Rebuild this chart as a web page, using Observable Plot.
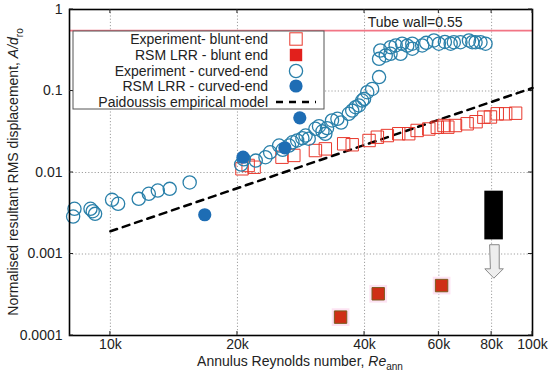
<!DOCTYPE html>
<html>
<head>
<meta charset="utf-8">
<script src="https://cdn.jsdelivr.net/npm/d3@7"></script>
<script src="https://cdn.jsdelivr.net/npm/@observablehq/plot@0.6"></script>
<style>
  body { margin: 0; background: white; }
</style>
</head>
<body>
<div id="chart"></div>
<script>
// ---- Axis ticks ----
const xTicks = [10000, 20000, 40000, 60000, 80000, 100000];
const xTickLabels = ["10k", "20k", "40k", "60k", "80k", "100k"];
const yTicks = [0.0001, 0.001, 0.01, 0.1, 1];
const yTickLabels = ["0.0001", "0.001", "0.01", "0.1", "1"];

// ---- Experiment - blunt-end (open red squares) ----
const expBluntRe = [20500, 21200, 21900, 25500, 27200, 30600, 32300, 35700, 37400, 41000, 42900, 45300, 48200, 50900, 53300, 56800, 59500, 61700, 63000, 65700, 70000, 73500, 76700, 79500, 82500, 86400, 91200];
const expBluntA  = [0.0111, 0.0122, 0.0116, 0.0154, 0.0162, 0.0186, 0.0195, 0.0225, 0.0219, 0.0247, 0.0271, 0.0284, 0.0299, 0.0299, 0.0328, 0.0342, 0.0359, 0.0377, 0.036, 0.0377, 0.0396, 0.042, 0.0477, 0.048, 0.0525, 0.0525, 0.0534];

// ---- RSM LRR - blunt end (filled red squares) ----
const rsmBluntRe = [35100, 43100, 60900];
const rsmBluntA  = [0.000168, 0.000325, 0.00041];

// ---- Experiment - curved-end (open blue circles) ----
const expCurvedRe = [8220, 8160, 8970, 9080, 9200, 10090, 10430, 11670, 12330, 12950, 13820, 15410,
  20400, 20700, 22100, 23300, 23900, 25100, 25600, 26500, 27000, 27700, 28500, 29000, 29500, 30600, 31200, 31800, 32300, 32600, 33500, 34500, 35200, 36700, 37400, 38100, 38800, 39500, 39900, 40600, 41700, 43300,
  43300, 43600, 44900, 46100, 46100, 47400, 48700, 49100, 50500, 51900, 51900, 54800, 56000, 58400, 60000, 62000, 64000, 65100, 67500, 70700, 72000, 73300, 75300, 77400];
const expCurvedA = [0.00359, 0.00288, 0.00359, 0.00335, 0.00311, 0.00462, 0.00413, 0.00475, 0.00548, 0.00601, 0.0063, 0.00754,
  0.0125, 0.0145, 0.014, 0.0154, 0.0177, 0.0214, 0.019, 0.0214, 0.0235, 0.0247, 0.0264, 0.0284, 0.026, 0.0344, 0.037, 0.032, 0.0298, 0.035, 0.0435, 0.0456, 0.041, 0.0525, 0.0575, 0.0633, 0.0664, 0.0764, 0.08, 0.0967, 0.106, 0.148,
  0.248, 0.314, 0.273, 0.286, 0.345, 0.362, 0.286, 0.38, 0.36, 0.33, 0.38, 0.362, 0.39, 0.417, 0.38, 0.4, 0.38, 0.397, 0.397, 0.417, 0.397, 0.397, 0.397, 0.38];

// ---- RSM LRR - curved-end (filled blue circles) ----
const rsmCurvedRe = [16730, 20620, 25900, 28100];
const rsmCurvedA  = [0.00303, 0.0154, 0.0201, 0.0469];

// ---- Paidoussis empirical model ----
const paidRe = [10000, 100000];
const paidA  = [0.0019, 0.109];

// ---- Tube wall ----
const tubeWall = 0.55;
const tubeWallLabel = "Tube wall=0.55";
const tubeWallLabelRe = 40700;

// ---- Annotation: black block and hollow down arrow ----
const blockRe = [77100, 85300];
const blockA  = [0.00149, 0.0059];
const arrowRe = [79300, 83400, 83400, 85300, 81000, 77100, 79300];
const arrowA  = [0.0013, 0.0013, 0.000658, 0.000658, 0.000505, 0.000658, 0.000658];

// ---- Legend ----
const legendLabels = ["Experiment- blunt-end", "RSM LRR - blunt end", "Experiment - curved-end", "RSM LRR - curved-end", "Paidoussis empirical model"];

const zip = (xs, ys) => xs.map((x, i) => ({x, y: ys[i]}));
const expBlunt = zip(expBluntRe, expBluntA);
const rsmBlunt = zip(rsmBluntRe, rsmBluntA);
const expCurved = zip(expCurvedRe, expCurvedA);
const rsmCurved = zip(rsmCurvedRe, rsmCurvedA);
const paid = zip(paidRe, paidA);
const arrow = zip(arrowRe, arrowA);
const xTickRows = xTicks.map((v, i) => ({v, t: xTickLabels[i]}));

const FONT = "'Liberation Sans', Arial, Helvetica, sans-serif";
const BLUE = "#2a80aa";
const RED = "#e8382c";

const chart = Plot.plot({
  width: 550,
  height: 375,
  marginLeft: 69,
  marginRight: 18,
  marginTop: 9,
  marginBottom: 40,
  style: {fontFamily: FONT, fontSize: "14px", color: "#222", background: "white"},
  x: {type: "log", domain: [8000, 100000], axis: null},
  y: {type: "log", domain: [0.0001, 1], axis: null},
  marks: [
    Plot.gridX(xTicks, {stroke: "#888", strokeOpacity: 0.8, strokeDasharray: "1.2,2"}),
    Plot.gridY(yTicks, {stroke: "#888", strokeOpacity: 0.8, strokeDasharray: "1.2,2"}),
    Plot.text(xTickRows, {x: "v", text: "t", frameAnchor: "bottom", dy: 13, fontSize: 14, fill: "#222"}),
    Plot.axisY(yTicks, {anchor: "left", tickSize: 0, tickPadding: 7, label: null, fontSize: 14,
      tickFormat: d => yTickLabels[yTicks.indexOf(d)]}),
    Plot.ruleY([tubeWall], {stroke: "#f27585", strokeWidth: 1.8}),
    Plot.text([{x: tubeWallLabelRe, y: tubeWall, t: tubeWallLabel}], {x: "x", y: "y", text: "t",
      textAnchor: "start", dy: -8, fontSize: 14, fill: "#222"}),
    // Paidoussis model
    Plot.line(paid, {x: "x", y: "y", stroke: "black", strokeWidth: 2.5, strokeDasharray: "7,6"}),
    // Experiment blunt
    Plot.dot(expBlunt, {x: "x", y: "y", symbol: "square", r: 7, stroke: RED, strokeWidth: 1, fill: "none"}),
    // Experiment curved
    Plot.dot(expCurved, {x: "x", y: "y", r: 6.6, stroke: BLUE, strokeWidth: 1.3, fill: "none"}),
    // RSM blunt (with pink halo)
    Plot.dot(rsmBlunt, {x: "x", y: "y", symbol: "square", r: 10, fill: "#fde3f3", stroke: "none"}),
    Plot.dot(rsmBlunt, {x: "x", y: "y", symbol: "square", r: 7, fill: "#cf2e16", stroke: "#7a5a1e", strokeWidth: 1}),
    // RSM curved
    Plot.dot(rsmCurved, {x: "x", y: "y", r: 6.6, fill: "#1e6db4", stroke: "none"}),
    // Annotation block and arrow
    Plot.rect([{x1: blockRe[0], x2: blockRe[1], y1: blockA[0], y2: blockA[1]}], {x1: "x1", x2: "x2", y1: "y1", y2: "y2", fill: "black"}),
    Plot.line(arrow, {x: "x", y: "y", curve: "linear-closed", fill: "#eeeeee", stroke: "#8a8a8a", strokeWidth: 1}),
    Plot.frame({stroke: "black", strokeWidth: 1.6})
  ]
});

document.getElementById("chart").appendChild(chart);

// ---- Post-processing: inner ticks, legend, axis titles ----
const svg = d3.select(chart);
const sx = chart.scale("x"), sy = chart.scale("y");
const L = 69, R = 532, T = 9, B = 335;

const ticksG = svg.append("g").attr("stroke", "#222").attr("stroke-width", 1);
yTicks.forEach(v => {
  const py = sy.apply(v);
  ticksG.append("line").attr("x1", L).attr("x2", L + 4).attr("y1", py).attr("y2", py);
  ticksG.append("line").attr("x1", R - 4).attr("x2", R).attr("y1", py).attr("y2", py);
});
xTicks.forEach(v => {
  const px = sx.apply(v);
  ticksG.append("line").attr("x1", px).attr("x2", px).attr("y1", B).attr("y2", B - 4);
  ticksG.append("line").attr("x1", px).attr("x2", px).attr("y1", T).attr("y2", T + 4);
});

// Legend
const lg = svg.append("g").attr("font-family", FONT).attr("font-size", 14).attr("fill", "#222");
lg.append("rect").attr("x", 73).attr("y", 31).attr("width", 251).attr("height", 78)
  .attr("fill", "white").attr("stroke", "#555").attr("stroke-width", 1);
const rowY = [39, 55, 71, 86, 102];
legendLabels.forEach((t, i) => {
  lg.append("text").attr("x", 268).attr("y", rowY[i]).attr("dy", "0.36em")
    .attr("text-anchor", "end").text(t);
});
const sx0 = 296;
lg.append("rect").attr("x", sx0 - 6.2).attr("y", rowY[0] - 6.2).attr("width", 12.4).attr("height", 12.4)
  .attr("fill", "none").attr("stroke", RED);
lg.append("rect").attr("x", sx0 - 6.2).attr("y", rowY[1] - 6.2).attr("width", 12.4).attr("height", 12.4)
  .attr("fill", "#e2201c");
lg.append("circle").attr("cx", sx0).attr("cy", rowY[2]).attr("r", 6.6)
  .attr("fill", "none").attr("stroke", BLUE).attr("stroke-width", 1.3);
lg.append("circle").attr("cx", sx0).attr("cy", rowY[3]).attr("r", 6.6).attr("fill", "#1e6db4");
lg.append("line").attr("x1", 276).attr("x2", 316).attr("y1", rowY[4]).attr("y2", rowY[4])
  .attr("stroke", "black").attr("stroke-width", 2.5).attr("stroke-dasharray", "7,6");

// Y axis title
const yt = svg.append("text").attr("transform", "translate(13,172) rotate(-90)")
  .attr("text-anchor", "middle").attr("dy", "0.36em")
  .attr("font-family", FONT).attr("font-size", 14).attr("fill", "#222");
yt.append("tspan").text("Normalised resultant RMS displacement, ");
yt.append("tspan").attr("font-style", "italic").text("A/d");
yt.append("tspan").attr("font-size", 10).attr("dy", "0.45em").text("ro");

// X axis title
const xt = svg.append("text").attr("x", 300).attr("y", 366)
  .attr("text-anchor", "middle")
  .attr("font-family", FONT).attr("font-size", 14).attr("fill", "#222");
xt.append("tspan").text("Annulus Reynolds number, ");
xt.append("tspan").attr("font-style", "italic").text("Re");
xt.append("tspan").attr("font-size", 10).attr("dy", "0.35em").text("ann");
</script>
</body>
</html>
